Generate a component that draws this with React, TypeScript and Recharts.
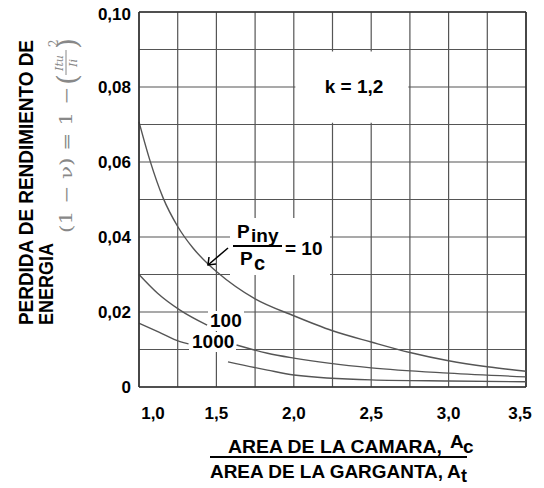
import {
  LineChart,
  Line,
  XAxis,
  YAxis,
  CartesianGrid,
  ReferenceArea,
  ReferenceLine,
} from 'recharts';

// x = Ac/At, y = energy loss (1 - v); null marks where a curve is broken for its label
const curve10X = [1.0, 1.07, 1.155, 1.25, 1.35, 1.446, 1.5, 1.75, 2.0, 2.25, 2.5, 2.75, 3.0, 3.25, 3.5];
const curve10Y = [0.0707, 0.0605, 0.0505, 0.0428, 0.037, 0.0328, 0.0308, 0.0235, 0.019, 0.015, 0.012, 0.0092, 0.007, 0.0054, 0.0042];

const curve100X = [1.0, 1.12, 1.265, 1.44, 1.5, 1.63, 1.83, 2.0, 2.5, 3.0, 3.5];
const curve100Y = [0.03, 0.025, 0.0205, 0.0165, null, 0.0112, 0.009, 0.0077, 0.0051, 0.0037, 0.0027];

const curve1000X = [1.0, 1.125, 1.265, 1.32, 1.45, 1.575, 1.83, 2.0, 2.5, 3.0, 3.5];
const curve1000Y = [0.017, 0.0147, 0.0121, 0.0115, null, 0.0067, 0.0045, 0.0032, 0.0019, 0.0016, 0.0014];

const xTicks = [1.0, 1.25, 1.5, 1.75, 2.0, 2.25, 2.5, 2.75, 3.0, 3.25, 3.5];
const yTicks = [0, 0.01, 0.02, 0.03, 0.04, 0.05, 0.06, 0.07, 0.08, 0.09, 0.1];

const toRows = (xs: number[], ys: (number | null)[]) => xs.map((x, i) => ({ x, y: ys[i] }));

const FONT = "'Liberation Sans', Arial, sans-serif";
const CURVE = '#555';

const fmtY = (v: number) => {
  if (Math.round(v * 100) % 2 !== 0) return '';
  return v === 0 ? '0' : v.toFixed(2).replace('.', ',');
};

function XTick(props: any) {
  const { x, y, payload, index } = props;
  const v = payload.value as number;
  if (Math.round(v * 100) % 50 !== 0) return null;
  const shift = index === 0 ? 14 : index === xTicks.length - 1 ? -6 : 0;
  return (
    <text x={x + shift} y={y + 30} textAnchor="middle" fontFamily={FONT} fontSize={17} fontWeight={700} fill="#000">
      {v.toFixed(1).replace('.', ',')}
    </text>
  );
}

function YTick(props: any) {
  const { x, y, payload } = props;
  const label = fmtY(payload.value as number);
  if (!label) return null;
  const dy = payload.value === 0.1 ? 2 : 0;
  return (
    <text x={x} y={y + 6 + dy} textAnchor="end" fontFamily={FONT} fontSize={17} fontWeight={700} fill="#000">
      {label}
    </text>
  );
}

export default function App() {
  return (
    <div style={{ position: 'relative', top: -4, width: 536, height: 484, background: '#fff' }}>
      <LineChart width={536} height={480} margin={{ top: 8, right: 18, bottom: 67, left: 0 }}>
        <CartesianGrid stroke="#555" strokeWidth={1.2} />
        <XAxis
          type="number"
          dataKey="x"
          domain={[1, 3.5]}
          ticks={xTicks}
          interval={0}
          height={30}
          tickSize={0}
          tickLine={false}
          axisLine={{ stroke: '#333', strokeWidth: 1.6 }}
          tick={<XTick />}
        />
        <YAxis
          type="number"
          domain={[0, 0.1]}
          ticks={yTicks}
          interval={0}
          width={131}
          tickLine={false}
          axisLine={{ stroke: '#333', strokeWidth: 1.6 }}
          tick={<YTick />}
        />
        <ReferenceLine y={0.1} stroke="#333" strokeWidth={1.6} />
        <ReferenceLine x={3.5} stroke="#333" strokeWidth={1.6} />
        <ReferenceArea x1={2.01} x2={2.74} y1={0.0705} y2={0.0895} fill="#fff" fillOpacity={1} stroke="none" />
        <Line data={toRows(curve10X, curve10Y)} dataKey="y" type="monotone" stroke={CURVE} strokeWidth={1.4} dot={false} isAnimationActive={false} />
        <Line data={toRows(curve100X, curve100Y)} dataKey="y" type="monotone" stroke={CURVE} strokeWidth={1.4} dot={false} isAnimationActive={false} />
        <Line data={toRows(curve1000X, curve1000Y)} dataKey="y" type="monotone" stroke={CURVE} strokeWidth={1.4} dot={false} isAnimationActive={false} />
      </LineChart>

      <svg width={536} height={484} style={{ position: 'absolute', left: 0, top: 0, pointerEvents: 'none' }}>
        <g transform="translate(0,4)">
          {/* y axis title */}
          <text transform="translate(25,317) rotate(-90)" fontFamily={FONT} fontSize={20} fontWeight={700} fill="#000" textLength={285} lengthAdjust="spacingAndGlyphs">
            PERDIDA DE RENDIMIENTO DE
          </text>
          <text transform="translate(45,317) rotate(-90)" fontFamily={FONT} fontSize={20} fontWeight={700} fill="#000" textLength={82} lengthAdjust="spacingAndGlyphs">
            ENERGIA
          </text>
          {/* handwritten formula */}
          <g transform="translate(64,225) rotate(-90)" fill="#888" fontFamily="'DejaVu Serif', serif">
            <text x={0} y={0} fontSize={16} textLength={146} lengthAdjust="spacingAndGlyphs">(1 − ν) = 1 − </text>
            <text x={148} y={5} fontSize={28}>(</text>
            <text x={170} y={-9} fontSize={11} fontStyle="italic" textAnchor="middle">Itu</text>
            <line x1={158} x2={183} y1={-6} y2={-6} stroke="#888" strokeWidth={1} />
            <text x={170} y={5} fontSize={11} fontStyle="italic" textAnchor="middle">Ii</text>
            <text x={184} y={5} fontSize={28}>)</text>
            <text x={186} y={-14} fontSize={12}>2</text>
          </g>

          {/* x axis title as a fraction */}
          <g fontFamily={FONT} fontWeight={700} fill="#000" fontSize={19}>
            <text x={220} y={445} textLength={214} lengthAdjust="spacingAndGlyphs">AREA DE LA CAMARA,</text>
            <text x={442} y={440}>A</text>
            <text x={455} y={445}>c</text>
            <line x1={202} x2={459} y1={449} y2={449} stroke="#000" strokeWidth={2} />
            <text x={202} y={470} textLength={233} lengthAdjust="spacingAndGlyphs">AREA DE LA GARGANTA,</text>
            <text x={439} y={470}>A</text>
            <text x={453} y={474} fontSize={18}>t</text>
          </g>

          {/* in-plot annotations */}
          <g fontFamily={FONT} fontWeight={700} fill="#000" fontSize={19}>
            <text x={346} y={85} textAnchor="middle">k = 1,2</text>

            <rect x={222} y={210} width={100} height={57} fill="#fff" />
            <text x={229} y={230}>P</text>
            <text x={243} y={234}>iny</text>
            <line x1={225} x2={274} y1={238} y2={238} stroke="#000" strokeWidth={2} />
            <text x={232} y={257}>P</text>
            <text x={246} y={262} fontSize={20}>c</text>
            <text x={277} y={247}>= 10</text>
            <line x1={220} y1={240} x2={200} y2={257} stroke="#000" strokeWidth={1.5} />
            <polyline points="201,249 200,257 208,256" fill="none" stroke="#000" strokeWidth={1.5} />

            <rect x={200} y={303} width={36} height={20} fill="#fff" />
            <text x={202} y={319}>100</text>
            <rect x={181} y={324} width={47} height={20} fill="#fff" />
            <text x={184} y={340}>1000</text>
          </g>
        </g>
      </svg>
    </div>
  );
}
